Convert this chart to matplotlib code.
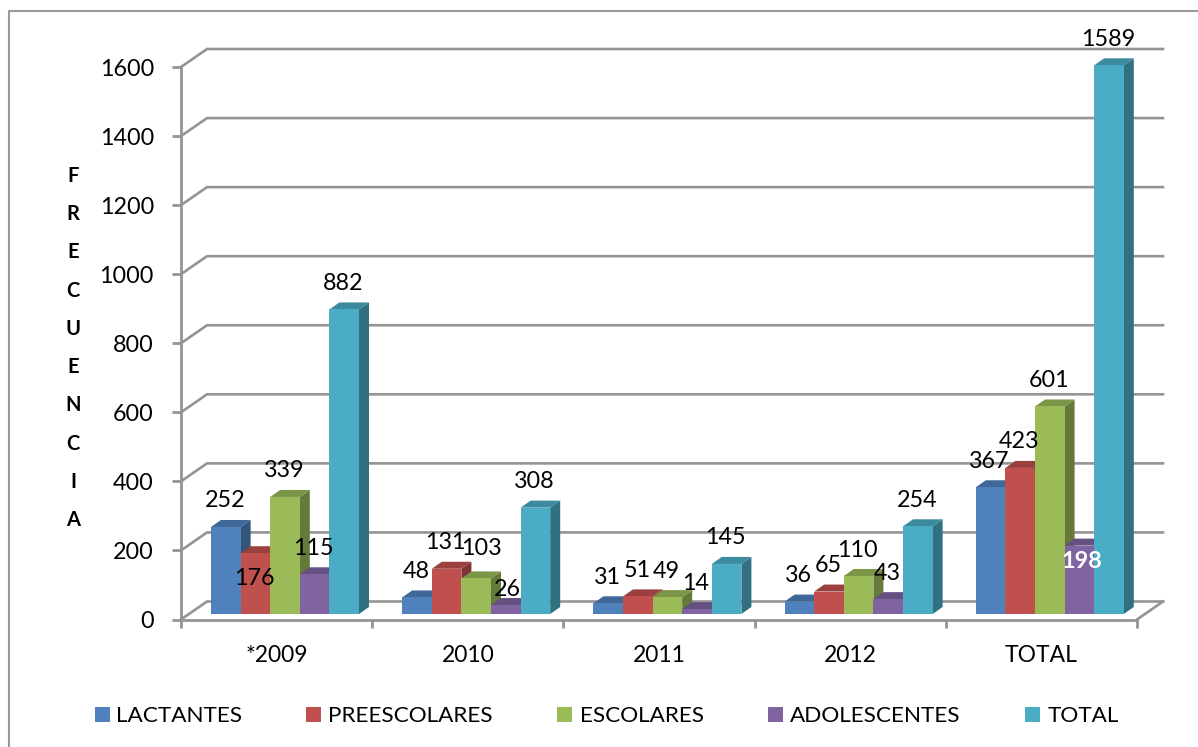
import matplotlib
matplotlib.use('Agg')
import matplotlib.pyplot as plt
from matplotlib.colors import to_rgb
from matplotlib.patches import Rectangle
from matplotlib.lines import Line2D

W, H = 1198, 747

years = ['*2009', '2010', '2011', '2012', 'TOTAL']
lactantes = [252, 48, 31, 36, 367]
preescolares = [176, 131, 51, 65, 423]
escolares = [339, 103, 49, 110, 601]
adolescentes = [115, 26, 14, 43, 198]
total = [882, 308, 145, 254, 1589]
y_ticks = [0, 200, 400, 600, 800, 1000, 1200, 1400, 1600]

series_names = ['LACTANTES', 'PREESCOLARES', 'ESCOLARES', 'ADOLESCENTES', 'TOTAL']
series_values = [lactantes, preescolares, escolares, adolescentes, total]
colors = ['#4F81BD', '#C0504D', '#9BBB59', '#8064A2', '#4BACC6']

plt.rcParams['font.family'] = ['Lato', 'DejaVu Sans']
gray = '#949494'

fig = plt.figure(figsize=(W / 100, H / 100), dpi=100)
fig.patch.set_facecolor('white')

# zona del grafico, en pixeles de la imagen
left, right, top, bottom = 181, 1137, 67, 619.5
ax = fig.add_axes([left / W, 1 - bottom / H, (right - left) / W, (bottom - top) / H])
ax.set_xlim(0, len(years))
ax.set_ylim(0, 1600)
ax.patch.set_alpha(0)

# un pixel en unidades de datos
px_x = len(years) / (right - left)
px_y = 1600 / (bottom - top)

for s in ['top', 'right']:
    ax.spines[s].set_visible(False)
for s in ['left', 'bottom']:
    ax.spines[s].set_color(gray)
    ax.spines[s].set_linewidth(2)

ax.set_yticks(y_ticks)
ax.tick_params(axis='y', length=6.5, width=2, color=gray, labelsize=16.8, pad=13)
ax.set_xticks(range(len(years) + 1))
ax.set_xticklabels([])
ax.set_xticks([i + 0.5 for i in range(len(years))], minor=True)
ax.set_xticklabels(years, minor=True, fontsize=16.5)
ax.tick_params(axis='x', which='major', length=6, width=2, color=gray)
ax.tick_params(axis='x', which='minor', length=0, pad=18.3)

# pared del fondo y piso
wall_dx, wall_dy = 26 * px_x, 18 * px_y
for t in y_ticks:
    ax.plot([0, wall_dx, len(years) + wall_dx], [t, t + wall_dy, t + wall_dy],
            color=gray, lw=1.9, clip_on=False, zorder=1, solid_joinstyle='miter')
ax.plot([len(years), len(years) + wall_dx], [0, wall_dy], color=gray, lw=1.9,
        clip_on=False, zorder=1)

# barras
bar_w = 29.6 * px_x
start = 30 * px_x
base = 5.5 * px_y
bar_dx, bar_dy = 10 * px_x, 7 * px_y


def darker(color, f):
    return tuple(c * f for c in to_rgb(color))


z = 2
for i in range(len(years)):
    for j, vals in enumerate(series_values):
        x0 = i + start + j * bar_w
        x1 = x0 + bar_w
        y1 = vals[i] + base
        ax.fill([x1, x1 + bar_dx, x1 + bar_dx, x1],
                [base, base + bar_dy, y1 + bar_dy, y1],
                color=darker(colors[j], 0.65), lw=0, clip_on=False, zorder=z)
        ax.fill([x0, x0 + bar_dx, x1 + bar_dx, x1],
                [y1, y1 + bar_dy, y1 + bar_dy, y1],
                color=darker(colors[j], 0.8), lw=0, clip_on=False, zorder=z)
        ax.bar(x0, vals[i], bar_w, bottom=base, align='edge', color=colors[j],
               lw=0, clip_on=False, zorder=z + 0.5)
        z += 1

# etiquetas: por defecto encima de la barra, algunas movidas a mano (pixeles)
label_gap = 26
moved = {(0, 1): (-1, -25), (1, 2): (5, 30), (1, 3): (2, 16), (4, 3): (2, -16)}
for i in range(len(years)):
    for j, vals in enumerate(series_values):
        dx, dy = moved.get((i, j), (-1, label_gap))
        white = (i, j) == (4, 3)
        ax.annotate(str(vals[i]),
                    (i + start + (j + 0.5) * bar_w, vals[i] + base),
                    xytext=(dx, dy), textcoords='offset pixels',
                    ha='center', va='center', fontsize=16.8,
                    color='white' if white else 'black',
                    fontweight='bold' if white else 'normal',
                    annotation_clip=False, zorder=500)

# titulo vertical
fig.text(73 / W, 1 - 348 / H, '\n'.join('FRECUENCIA'), ha='center', va='center',
         fontsize=14.5, fontweight='bold', linespacing=2.14)

# leyenda
square_x = [95, 306, 557, 768, 1025]
text_x = [116, 328, 580, 790, 1048]
for name, color, sx, tx in zip(series_names, colors, square_x, text_x):
    fig.add_artist(Rectangle((sx / W, 1 - 722 / H), 15 / W, 15 / H, color=color,
                             lw=0, transform=fig.transFigure))
    fig.text(tx / W, 1 - 716 / H, name, ha='left', va='center', fontsize=16.2)

# marco
fig.add_artist(Line2D([9 / W, 9 / W, 1], [0, 1 - 11 / H, 1 - 11 / H], color='#9a9a9a',
                      lw=1.5, transform=fig.transFigure))

fig.savefig('out.png', dpi=100)
